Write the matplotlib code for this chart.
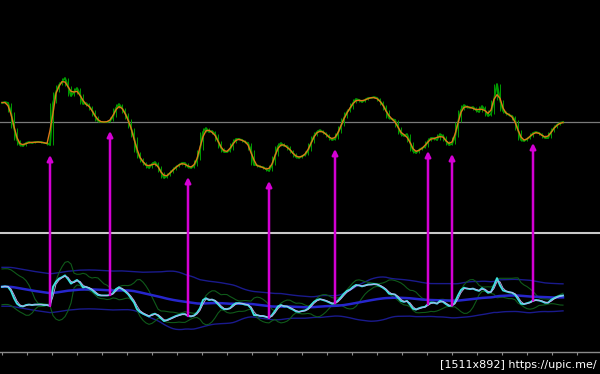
import numpy as np
import pandas as pd
import matplotlib
matplotlib.use("Agg")
import matplotlib.pyplot as plt
from matplotlib.patches import ConnectionPatch
from matplotlib.ticker import MultipleLocator

# price level per bar (one bar every step), higher = up
close = [97, 98, 97, 88, 72, 60, 55, 54, 57, 58, 57, 58, 58, 58, 57, 57, 55, 97, 108, 115,
         118, 122, 114, 104, 108, 112, 106, 96, 97, 94, 90, 84, 79, 78, 78, 78, 79, 83, 92, 96,
         92, 87, 81, 72, 63, 48, 42, 38, 35, 32, 36, 38, 34, 28, 22, 24, 27, 30, 33, 35,
         37, 37, 33, 32, 34, 40, 50, 68, 72, 68, 69, 66, 59, 52, 48, 48, 50, 57, 61, 61,
         60, 58, 57, 50, 35, 35, 33, 33, 31, 29, 35, 44, 54, 57, 54, 54, 50, 47, 43, 42,
         44, 45, 49, 57, 64, 68, 70, 68, 66, 63, 60, 61, 67, 74, 82, 88, 91, 97, 101, 100,
         98, 100, 102, 102, 103, 102, 99, 95, 90, 82, 81, 80, 73, 66, 64, 66, 58, 49, 47, 50,
         52, 53, 59, 62, 62, 60, 66, 64, 59, 55, 56, 63, 78, 90, 95, 93, 92, 93, 90, 88,
         94, 90, 84, 86, 100, 116, 100, 89, 87, 85, 84, 80, 70, 60, 59, 61, 63, 67, 68, 67,
         65, 62, 62, 68, 72, 75, 77, 78]
level_line = 78
signal_bars = [16, 36, 62, 89, 111, 142, 150, 177]

s = pd.Series(close, dtype=float)
x = np.arange(len(close))
smooth = s.rolling(3, center=True, min_periods=1).mean()
hi = s.rolling(3, center=True, min_periods=1).max()
lo = s.rolling(3, center=True, min_periods=1).min()
fast = s.rolling(2, min_periods=1).mean()
ema_long = s.ewm(span=60, adjust=False).mean()
sd_long = s.rolling(40, min_periods=40).std().bfill()
ma_short = s.rolling(8, min_periods=1).mean()
sd_short = s.rolling(8, min_periods=8).std().bfill()

BG = "black"
fig = plt.figure(figsize=(6.0, 3.74), dpi=100, facecolor=BG)
H = 374.0
top = fig.add_axes([0, (H - 233) / H, 1, 233 / H], facecolor=BG)
bot = fig.add_axes([0, (H - 352) / H, 1, (352 - 233) / H], facecolor=BG)

xlim = (-2 / 3, 598 / 3)
for ax in (top, bot):
    ax.set_xlim(*xlim)
    for sp in ax.spines.values():
        sp.set_visible(False)
    ax.set_yticks([])

top.set_xticks([])
top.set_ylim(-33, 200)
top.axhline(level_line, color="#7a7a7a", lw=0.9)
top.vlines(x, lo, hi, color="#009a00", lw=0.7, zorder=2)
top.plot(x, s, color="#009a00", lw=1.3, zorder=2)
top.plot(x, smooth, color="#e07818", lw=1.0, zorder=3)

bot.set_ylim(-46, 215)
bot.plot(x, ema_long + 2 * sd_long, color="#1a1a8c", lw=1.0)
bot.plot(x, ema_long - 2 * sd_long, color="#1a1a8c", lw=1.0)
bot.plot(x, ma_short + 2 * sd_short, color="#0f5a1a", lw=0.8)
bot.plot(x, ma_short - 2 * sd_short, color="#0f5a1a", lw=0.8)
bot.plot(x, ema_long, color="#2626cc", lw=1.8)
bot.plot(x, s, color="#3ee0e0", lw=1.4)
bot.plot(x, fast, color="#c8a8f0", lw=0.6)

bot.spines["top"].set_visible(True)
bot.spines["top"].set_color("#c8c8c8")
bot.spines["top"].set_linewidth(1.5)
bot.spines["bottom"].set_visible(True)
bot.spines["bottom"].set_color("#8a8a8a")
bot.spines["bottom"].set_linewidth(1.0)
bot.xaxis.set_major_locator(MultipleLocator(25 / 3))
bot.tick_params(axis="x", colors="#8a8a8a", length=2, width=0.8, labelbottom=False)

for i in signal_bars:
    cp = ConnectionPatch(xyA=(i, close[i]), coordsA=bot.transData,
                         xyB=(i, close[i] - 10), coordsB=top.transData,
                         arrowstyle="-|>", mutation_scale=8, color="#d400d4", lw=1.8)
    fig.add_artist(cp)

fig.text(0.995, 0.012, "[1511x892] https://upic.me/", ha="right", va="bottom",
         color="white", fontsize=8)

fig.savefig("out.png", dpi=100, facecolor=BG)
